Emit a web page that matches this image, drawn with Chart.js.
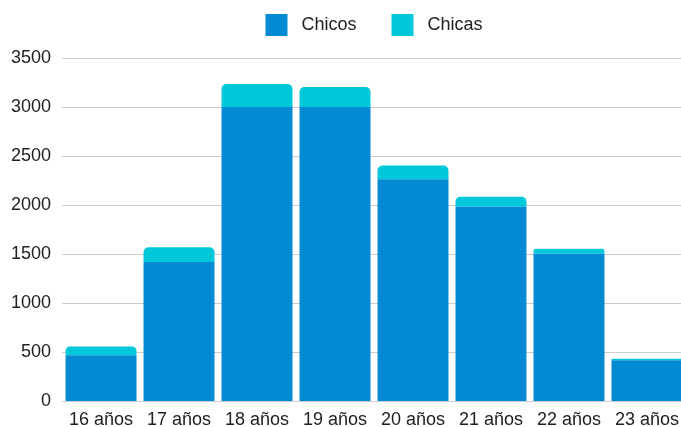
<!DOCTYPE html>
<html>
<head>
  <script src="https://cdn.jsdelivr.net/npm/chart.js@4"></script>
  <style>
    body { margin: 0; overflow: hidden; background: #fff; }
    .chart-container { position: relative; width: 687px; height: 427px; }
  </style>
</head>
<body>
  <div class="chart-container">
    <canvas id="myChart"></canvas>
  </div>
  <script type="text/javascript">
    // data
    var edades = ['16 años', '17 años', '18 años', '19 años', '20 años', '21 años', '22 años', '23 años'];
    var chicos = [470, 1420, 3000, 3000, 2265, 1985, 1505, 420];
    var chicas = [90, 150, 235, 205, 140, 100, 50, 15];
    var yTicks = [0, 500, 1000, 1500, 2000, 2500, 3000, 3500];

    Chart.defaults.font.family = '"Liberation Sans", Arial, sans-serif';
    Chart.defaults.font.size = 18;
    Chart.defaults.color = '#222';

    // legend centred over the plot area, with some room under it
    var legendTweak = {
      id: 'legendTweak',
      beforeInit: function(chart) {
        var lg = chart.legend;
        if (!lg) return;
        var origFit = lg.fit;
        lg.fit = function() {
          origFit.call(this);
          this.height += 12;
        };
      },
      afterLayout: function(chart) {
        var lg = chart.legend;
        if (!lg) return;
        lg.left = chart.chartArea.left;
        lg.right = chart.chartArea.right;
      }
    };

    var ctx = document.getElementById('myChart').getContext('2d');
    var chart = new Chart(ctx, {
      type: 'bar',
      data: {
        labels: edades,
        datasets: [{
            label: 'Chicos',
            backgroundColor: '#028bd3',
            data: chicos,
            barPercentage: 0.91,
            categoryPercentage: 1
          },
          {
            label: 'Chicas',
            backgroundColor: '#00c8d8',
            data: chicas,
            barPercentage: 0.91,
            categoryPercentage: 1,
            borderRadius: { topLeft: 5, topRight: 5 },
            borderSkipped: 'bottom'
          }
        ]
      },
      plugins: [legendTweak],
      options: {
        responsive: true,
        maintainAspectRatio: false,
        animation: false,
        layout: { padding: { left: 0, right: 0, top: 4, bottom: -12 } },
        plugins: {
          legend: {
            position: 'top',
            labels: {
              boxWidth: 22,
              boxHeight: 22,
              padding: 10,
              color: '#222',
              generateLabels: function(chart) {
                var items = Chart.defaults.plugins.legend.labels.generateLabels(chart);
                items.forEach(function(it, i) {
                  it.text = ' ' + it.text + (i === 0 ? '     ' : '');
                });
                return items;
              }
            }
          },
          tooltip: { enabled: false }
        },
        scales: {
          x: {
            stacked: true,
            grid: { display: false, drawTicks: false },
            border: { display: false },
            ticks: { color: '#222', padding: 8 }
          },
          y: {
            stacked: true,
            min: yTicks[0],
            max: yTicks[yTicks.length - 1],
            afterBuildTicks: function(axis) {
              axis.ticks = yTicks.map(function(v) { return { value: v }; });
            },
            ticks: {
              color: '#222',
              padding: 11,
              callback: function(v) { return String(v); }
            },
            grid: { color: '#cccccc', drawTicks: false },
            border: { display: false }
          }
        }
      }
    });
  </script>
</body>
</html>
